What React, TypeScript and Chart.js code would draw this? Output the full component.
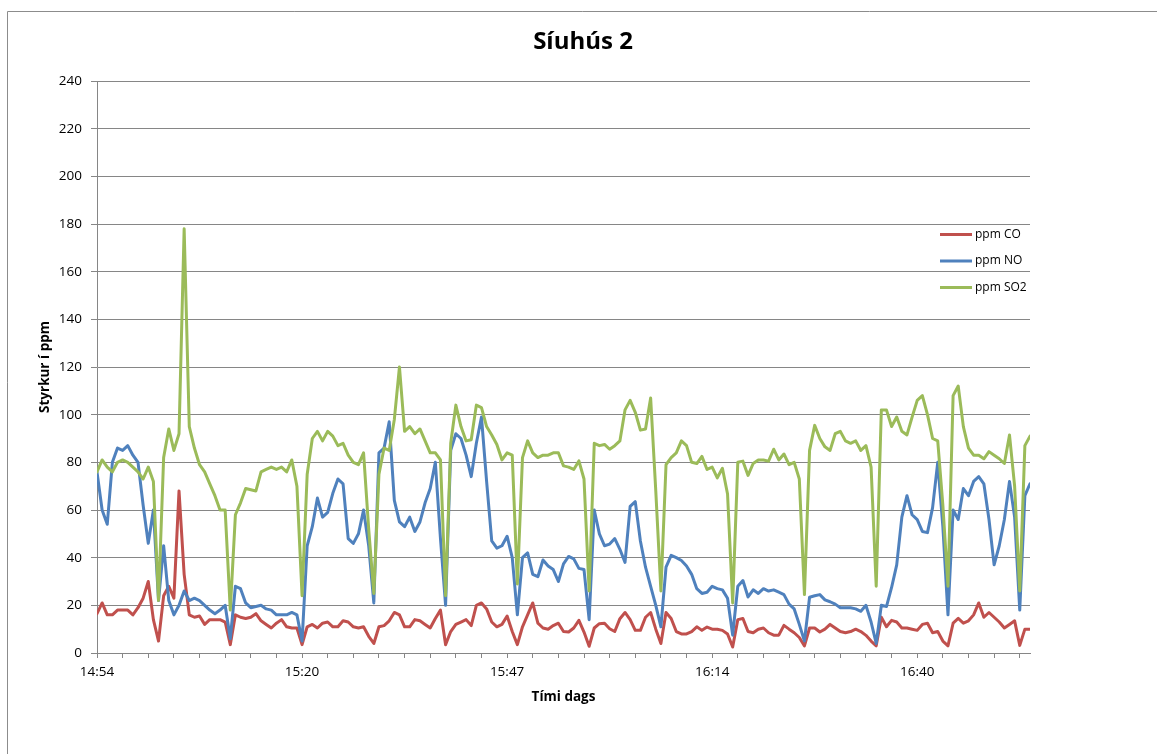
import React, { useEffect, useRef } from "react";
import { Chart, registerables } from "chart.js";

Chart.register(...registerables);

// Time labels shown every 40 samples (one minor tick every 5 samples)
const timeLabels = ["14:54", "15:20", "15:47", "16:14", "16:40"];
const samplesPerLabel = 40;
const samplesPerTick = 5;
const lastSample = 182;

const seriesNames = ["ppm CO", "ppm NO", "ppm SO2"];
const seriesColors = ["#C0504D", "#4F81BD", "#9BBB59"];

const coPpm = [
  16.5, 21, 16, 16, 18, 18, 18, 16, 19, 23,
  30, 14, 5, 24, 28, 23, 68, 33, 16, 15,
  15.5, 12, 14, 14, 14, 13, 3.5, 16, 15, 14.5,
  15, 16.5, 13.5, 12, 10.5, 12.5, 14, 11, 10.5, 10.5,
  3.5, 11, 12, 10.5, 12.5, 13, 11, 11, 13.5, 13,
  11, 10.5, 11, 7, 4, 11, 11.5, 13.5, 17, 16,
  11, 11, 14, 13.5, 12, 10.5, 14.5, 18, 3.5, 9,
  12, 13, 14, 11.5, 20, 21, 18.5, 13, 11, 12,
  15.5, 9, 3.5, 11, 16, 21, 12.5, 10.5, 10, 11.5,
  12.5, 9, 8.8, 10.5, 13.7, 8.8, 2.8, 10.5, 12.3, 12.5,
  10.2, 9, 14.4, 17, 14, 9.5, 9.5, 15, 17, 10,
  4, 17, 14.5, 9, 8, 8, 9, 11, 9.5, 10.9,
  10, 10, 9.5, 8, 2.5, 14, 14.5, 9, 8.5, 10,
  10.5, 8.5, 7.5, 7.5, 11.6, 10, 8.5, 6.5, 3, 10.5,
  10.5, 8.8, 10, 12, 10.5, 9, 8.5, 9, 10, 9,
  7.4, 5, 3, 15, 11, 13.7, 13, 10.5, 10.5, 10,
  9.5, 12, 12.5, 8.5, 9, 5, 3, 12.5, 14.5, 12.5,
  13.5, 16, 21, 15, 17, 15, 13, 10.5, 12, 13.5,
  3.2, 10, 10,
];

const noPpm = [
  76, 60, 54, 80, 86, 85, 87, 83, 80, 62,
  46, 60, 22, 45, 22, 16, 20, 26, 22, 23,
  22, 20, 18, 16.5, 18, 20, 6, 28, 27, 21,
  19, 19.5, 20, 18.5, 18, 16, 16, 16, 17, 16,
  5, 45, 53, 65, 57, 59, 67, 73, 71, 48,
  46, 50, 60, 45, 21, 84, 86, 97, 64, 55,
  53, 57, 51, 55, 63, 69, 80, 48, 20, 85,
  92, 90, 83, 74, 88, 99, 72, 47, 44, 45,
  49, 40, 16, 40, 42, 33, 32, 39, 36.5, 35,
  30, 37.4, 40.5, 39.5, 35.5, 35, 14, 60, 50, 45,
  45.7, 48, 43.5, 38, 61.5, 63.5, 47, 36, 28, 20,
  11, 36, 41, 40, 38.8, 36.5, 33, 27, 25, 25.5,
  28, 27, 26.5, 23, 7.5, 28, 30.4, 23.5, 26.5, 25,
  27, 26, 26.5, 25.5, 24.5, 20.5, 18.5, 12, 5, 23.4,
  24, 24.5, 22.3, 21.5, 20.5, 19, 19, 19, 18.5, 17.5,
  20, 13, 4, 20, 19.5, 27.5, 37, 57, 66, 58,
  56, 51, 50.5, 61, 80, 53, 16, 60, 56, 69,
  66, 72, 74, 71, 56, 37, 45, 56, 72, 57,
  18, 66, 71,
];

const so2Ppm = [
  76, 81, 78, 76, 80, 81, 80, 78, 76, 73,
  78, 72, 22, 82, 94, 85, 92, 178, 95, 86,
  79, 76, 71, 66, 60, 60, 18, 58, 63, 69,
  68.5, 68, 76, 77, 78, 77, 78, 76, 81, 70,
  24, 75, 90, 93, 89, 93, 91, 87, 88, 83,
  80, 79, 84, 52, 25, 75, 86, 85, 98, 120,
  93, 95, 92, 94, 89, 84, 84, 81, 24, 88,
  104, 95, 89, 89.5, 104, 103, 95, 91.5, 87.5, 81,
  84, 83, 29, 82, 89, 84, 82, 83, 83, 84,
  84, 78.5, 78, 77, 80.6, 73, 26, 88, 87, 87.5,
  85.5, 87, 89, 102, 106, 101, 93.5, 94, 107, 68,
  26, 79, 82, 84, 89, 87, 80, 79.5, 82.5, 77,
  78, 73.5, 77.5, 66.7, 21, 80, 80.5, 74.5, 79.5, 81,
  81, 80.5, 85.5, 81, 83.5, 79, 80, 73, 24.5, 85,
  95.5, 90, 86.5, 85, 92, 93, 89, 88, 89, 85,
  87, 78, 28, 102, 102, 95, 99, 93, 91.5, 99,
  106, 108, 100, 90, 89, 62, 28, 108, 112, 95,
  86, 83, 83, 81.5, 84.5, 83, 81.5, 79.5, 91.5, 70,
  26, 87, 91,
];

const FONT = '"Open Sans", "Noto Sans", sans-serif';
const GRID = "#868686";

const frameBorder = {
  id: "frameBorder",
  beforeDraw(chart: any) {
    const { ctx } = chart;
    ctx.save();
    ctx.strokeStyle = "#8c8c8c";
    ctx.lineWidth = 1;
    ctx.beginPath();
    ctx.moveTo(7.5, chart.height);
    ctx.lineTo(7.5, 11.5);
    ctx.lineTo(chart.width, 11.5);
    ctx.stroke();
    ctx.restore();
  },
};

const insideLegend = {
  id: "insideLegend",
  afterDatasetsDraw(chart: any) {
    const { ctx, chartArea } = chart;
    ctx.save();
    ctx.font = `12px ${FONT}`;
    ctx.textBaseline = "middle";
    ctx.textAlign = "left";
    const x0 = chartArea.right - 90;
    seriesNames.forEach((name, k) => {
      const y = 234.5 + k * 26.5;
      ctx.strokeStyle = seriesColors[k];
      ctx.lineWidth = 3;
      ctx.lineCap = "butt";
      ctx.beginPath();
      ctx.moveTo(x0, y);
      ctx.lineTo(x0 + 32, y);
      ctx.stroke();
      ctx.fillStyle = "#000";
      ctx.fillText(name, x0 + 35, y);
    });
    ctx.restore();
  },
};

export default function App() {
  const ref = useRef<HTMLCanvasElement | null>(null);

  useEffect(() => {
    if (!ref.current) return;
    const toPoints = (arr: number[]) => arr.map((v, i) => ({ x: i, y: v }));
    const values = [coPpm, noPpm, so2Ppm];
    const chart = new Chart(ref.current, {
      type: "line",
      data: {
        datasets: values.map((arr, k) => ({
          label: seriesNames[k],
          data: toPoints(arr),
          borderColor: seriesColors[k],
          backgroundColor: seriesColors[k],
          borderWidth: 3,
          pointRadius: 0,
          tension: 0,
          borderJoinStyle: "round" as const,
          borderCapStyle: "round" as const,
          order: 2 - k,
        })),
      },
      options: {
        responsive: false,
        animation: false,
        layout: { padding: { left: 9, right: 0, top: 0, bottom: 0 } },
        plugins: {
          legend: { display: false },
          tooltip: { enabled: false },
          title: {
            display: true,
            text: "Síuhús 2",
            color: "#000",
            font: { family: FONT, size: 24, weight: "bold" },
            padding: { top: 27.6, bottom: 24.6 },
          },
        },
        scales: {
          x: {
            type: "linear",
            min: 0,
            max: lastSample,
            afterBuildTicks: (scale: any) => {
              const t = [];
              for (let v = 0; v <= lastSample; v += samplesPerTick) t.push({ value: v });
              scale.ticks = t;
            },
            afterFit: (scale: any) => {
              scale.height = 101;
            },
            ticks: {
              autoSkip: false,
              maxRotation: 0,
              minRotation: 0,
              padding: 6,
              color: "#000",
              font: { family: FONT, size: 13.5 },
              callback: (value: any) =>
                Number(value) % samplesPerLabel === 0
                  ? timeLabels[Number(value) / samplesPerLabel] ?? ""
                  : "",
            },
            grid: {
              display: true,
              drawOnChartArea: false,
              drawTicks: true,
              tickLength: 5,
              color: GRID,
            },
            border: { display: true, color: GRID, width: 1 },
            title: {
              display: true,
              text: "Tími dags",
              color: "#000",
              font: { family: FONT, size: 13.5, weight: "bold" },
              padding: { top: 0, bottom: 49 },
            },
          },
          y: {
            min: 0,
            max: 240,
            afterFit: (scale: any) => {
              scale.width = 88;
            },
            ticks: {
              stepSize: 20,
              padding: 9,
              color: "#000",
              font: { family: FONT, size: 13.5 },
            },
            grid: {
              color: GRID,
              lineWidth: 1,
              drawTicks: true,
              tickLength: 6,
            },
            border: { display: true, color: GRID, width: 1 },
            title: {
              display: true,
              text: "Styrkur í ppm",
              color: "#000",
              font: { family: FONT, size: 13.5, weight: "bold" },
              padding: { top: 28, bottom: 0 },
            },
          },
          rightSpace: {
            type: "linear",
            position: "right",
            display: true,
            afterFit: (scale: any) => {
              scale.width = 127;
            },
            ticks: { display: false },
            grid: { display: false, drawTicks: false },
            border: { display: false },
          },
        },
      },
      plugins: [frameBorder, insideLegend],
    });
    return () => chart.destroy();
  }, []);

  return (
    <div style={{ position: "absolute", left: 0, top: 0, width: 1157, height: 754 }}>
      <canvas ref={ref} width={1157} height={754} style={{ display: "block" }} />
    </div>
  );
}
